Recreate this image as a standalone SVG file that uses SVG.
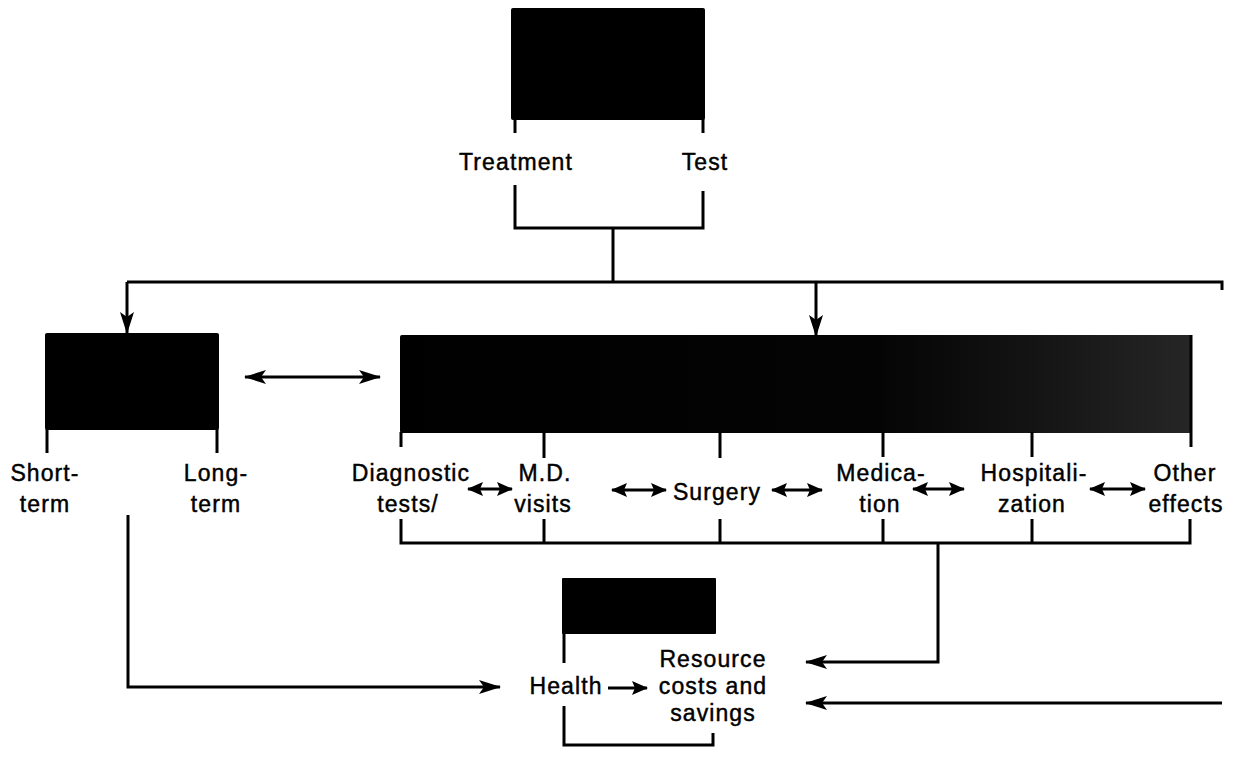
<svg xmlns="http://www.w3.org/2000/svg" width="1235" height="757" viewBox="0 0 1235 757">
<style>
.box{fill:#000;}
.ln{fill:none;stroke:#000;stroke-width:3;stroke-linejoin:miter;stroke-linecap:butt;}
.t{font-family:"Liberation Sans",Arial,sans-serif;font-size:23px;fill:#000;stroke:#000;stroke-width:0.45;text-anchor:middle;letter-spacing:1.1px;}
</style>
<defs>
<marker id="ah" viewBox="0 0 22 14" refX="21" refY="7" markerWidth="22" markerHeight="14" markerUnits="userSpaceOnUse" orient="auto-start-reverse">
<path d="M0,0 L22,7 L0,14 L5,7 Z" fill="#000"/>
</marker>
<marker id="as" viewBox="0 0 16 14" refX="15" refY="7" markerWidth="16" markerHeight="14" markerUnits="userSpaceOnUse" orient="auto-start-reverse">
<path d="M0,0 L16,7 L0,14 L3,7 Z" fill="#000"/>
</marker>
<linearGradient id="gb" x1="0" y1="0" x2="1" y2="0">
<stop offset="0" stop-color="#000"/>
<stop offset="0.6" stop-color="#040404"/>
<stop offset="0.8" stop-color="#141414"/>
<stop offset="1" stop-color="#262626"/>
</linearGradient>
</defs>

<g id="top-node">
<rect class="box" x="511" y="8" width="194" height="112" rx="2"/>
<path class="ln" d="M515,119 V133 M703,119 V133"/>
<text class="t" x="516" y="170">Treatment</text>
<text class="t" x="705" y="170">Test</text>
<path class="ln" d="M515,185 V228 H703 V191"/>
</g>

<g id="health-node">
<rect class="box" x="45" y="333" width="174" height="97" rx="2"/>
<path class="ln" d="M47,429 V453 M217,429 V453"/>
<text class="t" x="45" y="481">Short-</text>
<text class="t" x="45" y="512">term</text>
<text class="t" x="216" y="481">Long-</text>
<text class="t" x="216" y="512">term</text>
</g>

<g id="resource-node">
<rect x="400" y="335" width="792" height="98" rx="2" fill="url(#gb)"/>
<path class="ln" d="M401,432 V447 M544,432 V458 M720,432 V458 M883,432 V457 M1032,432 V457 M1191,335 V447"/>
<text class="t" x="411" y="481">Diagnostic</text>
<text class="t" x="408" y="512">tests/</text>
<text class="t" x="545" y="481">M.D.</text>
<text class="t" x="543" y="512">visits</text>
<text class="t" x="717" y="500">Surgery</text>
<text class="t" x="881" y="481">Medica-</text>
<text class="t" x="880" y="512">tion</text>
<text class="t" x="1034" y="481">Hospitali-</text>
<text class="t" x="1032" y="512">zation</text>
<text class="t" x="1185" y="481">Other</text>
<text class="t" x="1186" y="512">effects</text>
<path class="ln" d="M401,519 V543 H1190 V519 M544,519 V543 M720,519 V543 M883,519 V543 M1032,519 V543"/>
</g>

<g id="outcome-node">
<rect class="box" x="562" y="578" width="154" height="56" rx="1"/>
<path class="ln" d="M564,633 V663"/>
<text class="t" x="566" y="694">Health</text>
<text class="t" x="713" y="667">Resource</text>
<text class="t" x="713" y="694">costs and</text>
<text class="t" x="713" y="721">savings</text>
<path class="ln" d="M564,706 V745 H713 V733"/>
</g>

<g id="connectors">
<path class="ln" d="M613,228 V282 M127,282 H1222 V290"/>
<path class="ln" d="M127,282 V333" marker-end="url(#ah)"/>
<path class="ln" d="M816,282 V336" marker-end="url(#ah)"/>
<path class="ln" d="M245,377 H380" marker-start="url(#ah)" marker-end="url(#ah)"/>
<path class="ln" d="M468,489 H512" stroke-width="4" marker-start="url(#as)" marker-end="url(#as)"/>
<path class="ln" d="M612,490 H666" stroke-width="4" marker-start="url(#as)" marker-end="url(#as)"/>
<path class="ln" d="M772,490 H822" stroke-width="4" marker-start="url(#as)" marker-end="url(#as)"/>
<path class="ln" d="M913,489 H964" stroke-width="4" marker-start="url(#as)" marker-end="url(#as)"/>
<path class="ln" d="M1090,489 H1145" stroke-width="4" marker-start="url(#as)" marker-end="url(#as)"/>
<path class="ln" d="M128,515 V687 H500" marker-end="url(#ah)"/>
<path class="ln" d="M938,543 V662 H806" stroke-width="3.5" marker-end="url(#ah)"/>
<path class="ln" d="M1222,703 H806" stroke-width="3.5" marker-end="url(#ah)"/>
<path class="ln" d="M608,688 H647" stroke-width="3.5" marker-end="url(#as)"/>
</g>
</svg>
